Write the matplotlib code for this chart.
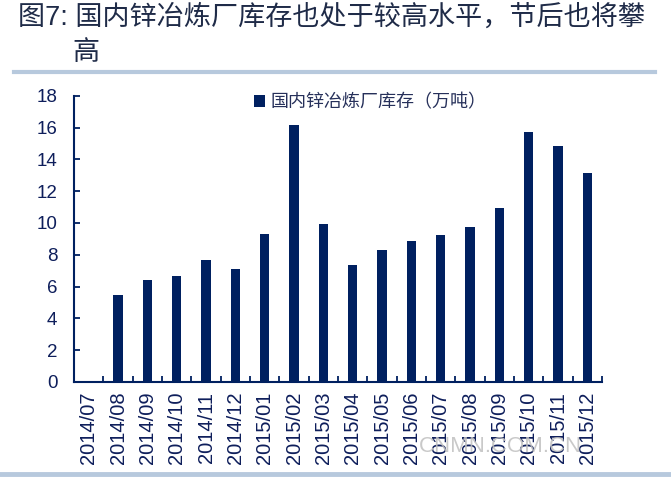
import numpy as np
import matplotlib
matplotlib.use('Agg')
import matplotlib.pyplot as plt
from matplotlib.lines import Line2D

plt.rcParams['font.family'] = ['Liberation Sans', 'Noto Sans CJK SC', 'DejaVu Sans']

months = ['2014/07', '2014/08', '2014/09', '2014/10', '2014/11', '2014/12',
          '2015/01', '2015/02', '2015/03', '2015/04', '2015/05', '2015/06',
          '2015/07', '2015/08', '2015/09', '2015/10', '2015/11', '2015/12']
stock = [np.nan, 5.5, 6.4, 6.65, 7.65, 7.1,
         9.3, 16.15, 9.95, 7.35, 8.3, 8.85,
         9.25, 9.75, 10.95, 15.72, 14.85, 13.15]
yticks = [0, 2, 4, 6, 8, 10, 12, 14, 16, 18]

title_line1 = '图7: 国内锌冶炼厂库存也处于较高水平，节后也将攀'
title_line2 = '高'
legend_label = '国内锌冶炼厂库存（万吨）'

navy = '#002060'
txt = '#0E1E5B'

fig = plt.figure(figsize=(6.71, 4.91), dpi=100)
ax = fig.add_axes([0.1103, 0.222, 0.7869, 0.583])

x = np.arange(len(months))
ax.bar(x, stock, width=0.32, color=navy, label=legend_label)

ax.set_xlim(-0.5, len(months) - 0.5)
ax.set_ylim(0, 18)
ax.set_yticks(yticks)
ax.set_yticklabels([str(v) for v in yticks], fontsize=13.5, color=txt)
ax.set_xticks(x)
ax.set_xticklabels(months, rotation=90, fontsize=14.5, color=txt)
ax.tick_params(axis='x', length=0, pad=7)
ax.set_xticks(np.arange(-0.5, len(months)), minor=True)
ax.tick_params(axis='x', which='minor', direction='in', length=4, width=1.3, color=navy)
ax.tick_params(axis='y', direction='in', length=4, width=1.3, color=navy, pad=12)

for s in ['top', 'right']:
    ax.spines[s].set_visible(False)
for s in ['left', 'bottom']:
    ax.spines[s].set_color(navy)
    ax.spines[s].set_linewidth(1.5)

leg = ax.legend(loc='upper left', bbox_to_anchor=(0.31, 1.065), frameon=False,
                handlelength=0.6, handleheight=0.6, handletextpad=0.3,
                prop={'family': ['Noto Sans CJK SC'], 'size': 13})
for t in leg.get_texts():
    t.set_color('#26305A')

# title and separators
fig.text(18 / 671, 1 - 18 / 491, title_line1, fontsize=19.5, color='#1F2B48',
         va='center', ha='left')
fig.text(72 / 671, 1 - 53 / 491, title_line2, fontsize=19.5, color='#1F2B48',
         va='center', ha='left', family=['Noto Sans CJK SC'])
fig.add_artist(Line2D([14 / 671, 655 / 671], [1 - 72 / 491, 1 - 72 / 491],
                      color='#B7C9DD', linewidth=3, transform=fig.transFigure))
fig.add_artist(Line2D([0, 1], [1 - 474 / 491, 1 - 474 / 491],
                      color='#B7C9DD', linewidth=3.5, transform=fig.transFigure))

# watermark
fig.text(500 / 671, 1 - 447 / 491, 'CNMN.COM.CN', fontsize=16, color='#C0C0C0',
         alpha=0.85, ha='center', va='center', zorder=0)

fig.savefig('out.png', dpi=100)
